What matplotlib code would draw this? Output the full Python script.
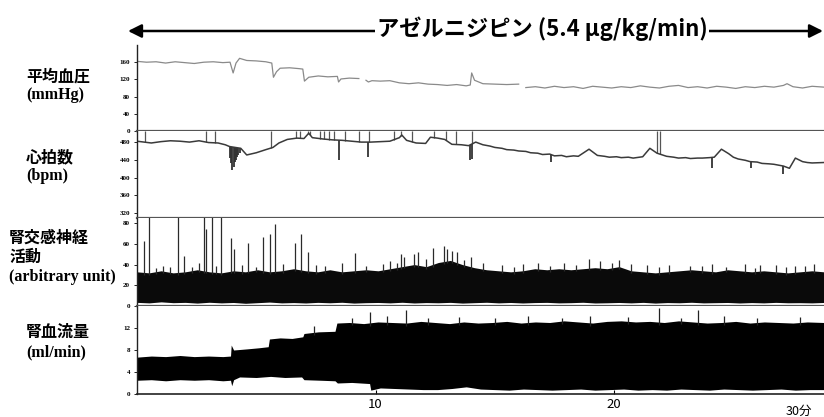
import numpy as np
import matplotlib
matplotlib.use("Agg")
import matplotlib.pyplot as plt
from matplotlib.font_manager import FontProperties
from matplotlib.patches import FancyArrowPatch

# ---------------- data (time in minutes) ----------------
XMAX = 28.8

# Mean arterial pressure (mmHg)
map_t = [0.0, 0.4, 0.8, 1.2, 1.6, 2.0, 2.4, 2.8, 3.2, 3.6, 3.9, 4.03, 4.15, 4.3, 4.6, 5.0, 5.4,
         5.65, 5.72, 5.85, 6.0, 6.4, 6.8, 6.95, 7.02, 7.2, 7.6, 8.0, 8.4, 8.45, 8.55, 8.9, 9.3,
         9.45, 9.6, 9.7, 9.85, 10.2, 10.6, 11.0, 11.4, 11.8, 12.2, 12.6, 13.0, 13.4, 13.8, 13.97,
         14.03, 14.15, 14.5, 15.0, 15.5, 16.0, 16.15, 16.3, 16.7, 17.1, 17.5, 17.9, 18.3, 18.7,
         19.1, 19.5, 19.9, 20.3, 20.7, 21.1, 21.5, 21.9, 22.3, 22.7, 23.1, 23.5, 23.9, 24.3, 24.7,
         25.1, 25.5, 25.9, 26.3, 26.7, 27.1, 27.25, 27.5, 27.9, 28.3, 28.8]
map_v = [162, 160, 161, 158, 161, 159, 157, 160, 161, 159, 160, 135, 158, 169, 164, 163, 161,
         158, 125, 138, 146, 147, 145, 144, 116, 125, 128, 126, 127, 114, 121, 123, 122,
         np.nan, 118, 114, 117, 116, 117, 112, 110, 112, 109, 108, 106, 108, 105, 107,
         135, 118, 110, 109, 108, 109, np.nan, 101, 103, 100, 104, 101, 103, 99,
         104, 102, 100, 103, 101, 105, 102, 100, 104, 106, 101, 103, 100, 104, 102,
         99, 103, 101, 104, 102, 106, 110, 103, 100, 104, 102]

# Heart rate (bpm)
hr_t = [0.0, 0.3, 0.6, 1.0, 1.4, 1.8, 2.2, 2.6, 3.0, 3.4, 3.7, 3.88, 4.35, 4.6, 5.0, 5.4, 5.7,
        5.95, 6.3, 6.7, 7.0, 7.2, 7.35, 7.8, 8.2, 8.6, 9.0, 9.4, 9.8, 10.2, 10.6, 11.0, 11.1,
        11.3, 11.7, 12.1, 12.3, 12.6, 12.9, 13.2, 13.6, 13.9, 14.2, 14.5, 14.8, 15.0, 15.3,
        15.5, 15.8, 16.0, 16.3, 16.5, 16.8, 17.0, 17.3, 17.5, 17.8, 18.0, 18.3, 18.5, 18.95,
        19.3, 19.6, 19.8, 20.1, 20.3, 20.6, 20.8, 21.2, 21.5, 21.8, 22.2, 22.5, 22.7, 23.0,
        23.2, 23.5, 23.7, 24.0, 24.2, 24.5, 24.8, 25.0, 25.2, 25.5, 25.7, 26.0, 26.2, 26.5,
        26.7, 27.1, 27.35, 27.6, 27.9, 28.1, 28.3, 28.8]
hr_v = [482, 480, 478, 481, 483, 482, 480, 483, 479, 478, 474, 470, 466, 451, 456, 463, 468,
        478, 486, 489, 488, 500, 490, 487, 485, 484, 482, 480, 480, 481, 482, 490, 496,
        484, 478, 477, 491, 489, 486, 475, 474, 472, 480, 474, 471, 468, 466,
        463, 462, 460, 459, 456, 455, 452, 453, 449, 450, 447, 449, 448, 464,
        450, 448, 446, 447, 445, 446, 444, 447, 466, 455, 448, 446, 444, 445,
        443, 444, 444, 445, 446, 464, 454, 446, 442, 439, 436, 435, 432, 431,
        430, 426, 421, 444, 436, 434, 433, 434]
hr_up_spikes = [0.34, 2.9, 3.28, 5.63, 6.68, 6.85, 7.18, 7.27, 7.69, 7.82, 8.03, 8.24, 8.74,
                9.29, 9.71, 10.76, 11.05, 11.51, 12.44, 12.94, 13.36, 14.03, 21.8, 21.93]
hr_down_t = [3.90, 3.95, 4.0, 4.05, 4.1, 4.15, 4.2, 4.25, 4.3, 8.45, 9.7, 13.95, 14.05,
             17.35, 24.1, 25.75, 27.1]
hr_down_v = [445, 432, 417, 425, 436, 440, 446, 450, 455, 440, 447, 440, 442,
             436, 421, 422, 408]

# Renal sympathetic nerve activity (arbitrary unit) - envelope every 0.5 min
sna_upper = [33, 32, 34, 32, 33, 35, 33, 32, 34, 33, 35, 33, 34, 36, 34, 33, 35, 33, 34, 35,
             34, 36, 38, 40, 38, 42, 44, 40, 37, 35, 34, 33, 34, 36, 35, 36, 35, 36, 37, 36,
             38, 34, 33, 32, 33, 34, 35, 34, 33, 35, 34, 33, 34, 33, 32, 33, 34, 33]
sna_lower = [3.5, 3.0, 4.0, 3.2, 3.5, 2.8, 3.6, 3.0, 3.4, 2.6, 3.2, 3.8, 3.0, 3.3, 2.9, 3.5,
             3.1, 3.6, 2.8, 3.2, 3.4, 3.0, 3.6, 2.9, 3.3, 3.1, 3.5, 2.8, 3.2, 3.6, 3.0, 3.4,
             2.9, 3.3, 3.5, 3.0, 3.2, 3.6, 2.9, 3.1, 3.4, 3.0, 3.5, 2.8, 3.3, 3.1, 3.6, 3.0,
             3.2, 3.4, 2.9, 3.3, 3.0, 3.5, 3.1, 3.2, 3.0, 3.4]
sna_spk_t = [0.29, 0.50, 1.72, 1.97, 2.6, 2.82, 2.9, 3.15, 3.53, 3.95, 4.08, 4.66, 5.29, 5.59,
             5.8, 6.64, 6.89, 7.18, 9.12, 11.05, 11.18, 11.6, 11.8, 12.39, 12.86, 12.98, 13.19,
             13.4, 13.99, 16.8, 17.9, 18.95, 19.4, 20.2, 21.4, 25.5, 26.1,
             1.1, 2.3, 4.4, 6.1, 7.9, 8.6, 10.3, 10.6, 12.1, 14.5, 15.3, 16.2, 19.9, 22.3,
             23.2, 24.1, 26.8, 27.6, 28.4, 0.8, 1.4, 3.3, 5.0, 7.5, 9.6, 10.9, 13.7, 15.8,
             17.3, 18.4, 20.7, 21.9, 23.7, 24.7, 25.9, 27.2, 28.0]
sna_spk_v = [63, 86, 86, 48, 42, 86, 74, 86, 86, 66, 55, 61, 67, 70,
             79, 61, 70, 52, 51, 50, 47, 50, 52, 56, 58, 55, 53,
             52, 47, 42, 42, 45, 43, 44, 40, 41, 40,
             39, 38, 40, 41, 39, 42, 41, 43, 45, 42, 40, 41, 42, 40,
             39, 41, 40, 39, 41, 37, 38, 39, 38, 40, 39, 42, 44, 38,
             39, 40, 41, 38, 39, 38, 37, 38, 39]

# Renal blood flow (ml/min) - upper / lower envelope
rbf_up_t = [0.0, 0.6, 1.2, 1.8, 2.4, 3.0, 3.6, 3.92, 3.95, 4.05, 4.6, 5.1, 5.5, 5.55, 6.0,
            6.5, 6.95, 7.0, 7.6, 8.3, 8.38, 8.9, 9.5, 10.1, 10.7, 11.3, 11.9, 12.5, 13.1,
            13.7, 14.3, 14.9, 15.5, 16.1, 16.7, 17.3, 17.9, 18.5, 19.1, 19.7, 20.3, 20.9,
            21.5, 22.1, 22.7, 23.3, 23.9, 24.5, 25.1, 25.7, 26.3, 26.9, 27.5, 28.1, 28.8]
rbf_up_v = [6.7, 6.9, 6.8, 7.0, 6.8, 6.9, 6.8, 6.9, 8.9, 8.0, 8.2, 8.4, 8.6, 10.0, 10.2,
            10.1, 10.4, 11.0, 11.3, 11.4, 12.9, 13.0, 12.8, 13.1, 13.0, 12.9, 13.2, 13.0,
            12.8, 13.1, 12.9, 13.0, 13.2, 12.9, 13.1, 13.0, 13.3, 13.1, 12.9, 13.2, 13.3,
            13.1, 13.2, 13.0, 13.3, 13.1, 12.9, 13.0, 13.2, 12.9, 13.1, 13.0, 12.9, 13.1, 13.0]
rbf_lo_t = [0.0, 0.6, 1.2, 1.8, 2.4, 3.0, 3.6, 3.92, 3.97, 4.05, 4.3, 5.0, 5.6, 6.2, 6.9,
            7.0, 7.7, 8.3, 8.4, 9.0, 9.75, 9.8, 10.2, 10.8, 11.4, 12.0, 12.6, 13.2, 13.8,
            14.4, 15.0, 15.6, 16.2, 16.8, 17.4, 18.0, 18.6, 19.2, 19.8, 20.4, 21.0, 21.6,
            22.2, 22.8, 23.4, 24.0, 24.6, 25.2, 25.8, 26.4, 27.0, 27.6, 28.2, 28.8]
rbf_lo_v = [2.5, 2.6, 2.4, 2.6, 2.5, 2.6, 2.4, 2.5, 1.5, 2.6, 3.1, 3.0, 3.2, 3.0, 3.1,
            2.6, 2.5, 2.4, 2.0, 2.1, 1.9, 0.7, 1.1, 1.0, 0.9, 0.8, 0.8, 1.0, 1.3, 0.9,
            0.8, 0.7, 0.9, 0.8, 0.7, 0.8, 0.9, 0.7, 0.8, 0.9, 0.7, 0.8, 0.7, 0.9, 0.8,
            0.7, 0.9, 0.8, 0.7, 0.8, 0.9, 0.7, 0.8, 0.8]
rbf_spk_t = [7.4, 9.75, 11.26, 21.9, 23.5, 9.0, 10.5, 12.2, 13.5, 15.0, 16.4, 17.8, 19.0,
             20.6, 22.8, 24.6, 26.0, 27.8]
rbf_spk_v = [12.4, 15.0, 15.3, 15.6, 15.3, 13.9, 14.1, 13.8, 14.0, 13.9, 14.2, 13.8, 14.1,
             14.0, 13.9, 14.2, 13.8, 14.0]

# labels
title_text = "アゼルニジピン (5.4 μg/kg/min)"
panel_labels = [["平均血圧", "(mmHg)"], ["心拍数", "(bpm)"],
                ["腎交感神経", "活動", "(arbitrary unit)"], ["腎血流量", "(ml/min)"]]
map_ticks = [0, 40, 80, 120, 160]
hr_ticks = [320, 360, 400, 440, 480]
sna_ticks = [0, 20, 40, 60, 80]
rbf_ticks = [0, 4, 8, 12]
x_ticks = [10, 20]

# ---------------- figure ----------------
W, H = 824, 417
fig = plt.figure(figsize=(W / 100, H / 100), dpi=100)


def fy(px):
    return 1 - px / H


left = 137 / W
bounds = [(45, 131), (131, 218), (218, 306), (306, 394)]
axes = []
for top, bot in bounds:
    ax = fig.add_axes([left, fy(bot), 1 - left, (bot - top) / H])
    ax.set_xlim(0, XMAX)
    for s in ["top", "right"]:
        ax.spines[s].set_visible(False)
    ax.spines["left"].set_color("#222222")
    ax.spines["left"].set_linewidth(1.0)
    ax.spines["bottom"].set_color("#555555")
    ax.spines["bottom"].set_linewidth(1.6)
    ax.tick_params(axis="y", length=2, width=0.6, pad=3)
    ax.tick_params(axis="x", length=0)
    ax.set_xticks([])
    axes.append(ax)

ax1, ax2, ax3, ax4 = axes
tickfont = FontProperties(family="Liberation Serif", size=5, weight="bold")

# MAP
ax1.plot(map_t, map_v, color="#8a8a8a", lw=0.9)
ax1.set_ylim(0, 200)
ax1.set_yticks(map_ticks)

# HR
ax2.set_ylim(309, 505)
hr_t_arr = np.array(hr_t)
hr_v_arr = np.array(hr_v)
base_up = np.interp(hr_up_spikes, hr_t_arr, hr_v_arr)
ax2.vlines(hr_up_spikes, base_up, 505, color="#555555", lw=0.9)
base_dn = np.interp(hr_down_t, hr_t_arr, hr_v_arr)
ax2.vlines(hr_down_t, hr_down_v, base_dn, color="#333333", lw=1.3)
ax2.plot(hr_t, hr_v, color="#3a3a3a", lw=1.1)
ax2.set_yticks(hr_ticks)

# SNA
sna_t = np.linspace(0, XMAX, len(sna_upper))
ax3.set_ylim(0, 85)
ax3.fill_between(sna_t, sna_lower, sna_upper, color="#0a0a0a", lw=0)
sna_base = np.interp(sna_spk_t, sna_t, sna_upper)
ax3.vlines(sna_spk_t, sna_base - 2, sna_spk_v, color="#2a2a2a", lw=0.9)
ax3.set_yticks(sna_ticks)

# RBF
ax4.set_ylim(0, 16)
grid = np.union1d(rbf_up_t, rbf_lo_t)
up_i = np.interp(grid, rbf_up_t, rbf_up_v)
lo_i = np.interp(grid, rbf_lo_t, rbf_lo_v)
ax4.fill_between(grid, lo_i, up_i, color="black", lw=0)
rbf_base = np.interp(rbf_spk_t, rbf_up_t, rbf_up_v)
ax4.vlines(rbf_spk_t, rbf_base - 0.5, rbf_spk_v, color="#222222", lw=0.9)
ax4.set_yticks(rbf_ticks)
ax4.spines["bottom"].set_color("#222222")
ax4.spines["bottom"].set_linewidth(1.2)
ax4.set_xticks(x_ticks)
ax4.set_xticklabels([str(v) for v in x_ticks], family="Noto Sans CJK JP", fontsize=9.5)
ax4.tick_params(axis="x", length=3, direction="in", pad=3)

for ax in axes:
    for lab in ax.get_yticklabels():
        lab.set_fontproperties(tickfont)

fig.text(799 / W, fy(411), "30分", family=["Noto Sans CJK JP"], fontsize=9,
         ha="center", va="center")

# panel labels
lab_fam = ["Liberation Serif", "Noto Sans CJK JP"]
label_x = [26, 26, 9, 26]
label_y = [[78, 95], [158, 176], [239, 258, 277], [333, 352]]
for lines, xx, ys in zip(panel_labels, label_x, label_y):
    for txt, yy in zip(lines, ys):
        fig.text(xx / W, fy(yy), txt, family=lab_fam, fontsize=11.5, weight="bold",
                 ha="left", va="center")

# title arrow
fig.add_artist(FancyArrowPatch(
    (128 / W, fy(31)), (823 / W, fy(31)), transform=fig.transFigure,
    arrowstyle="<|-|>", mutation_scale=20, lw=1.8, color="black",
    shrinkA=0, shrinkB=0))
fig.text(542 / W, fy(29), title_text,
         family=["Noto Sans CJK JP", "DejaVu Sans"],
         fontsize=16, weight="bold", ha="center", va="center",
         bbox=dict(facecolor="white", edgecolor="none", pad=1.0))

fig.savefig("out.png", dpi=100)
